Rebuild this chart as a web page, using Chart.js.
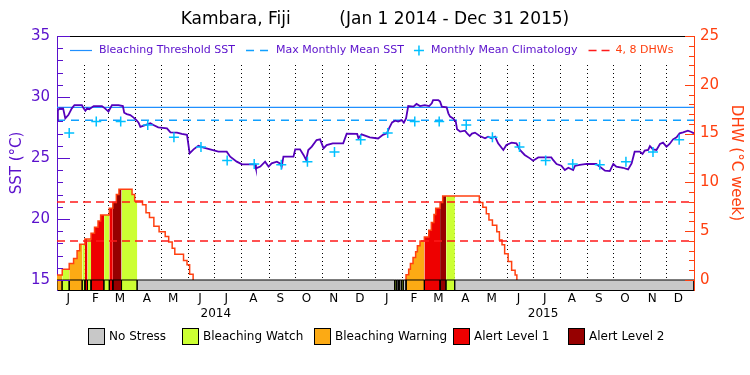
<!DOCTYPE html>
<html>
<head>
<meta charset="utf-8">
<script src="https://cdn.jsdelivr.net/npm/chart.js@4.4.1/dist/chart.umd.min.js"></script>
<style>
  html, body { margin: 0; padding: 0; background: #fff; }
</style>
</head>
<body>
<canvas id="sst-chart" width="750" height="375"></canvas>
<script>
// day index counted from Jan 1 2014
const sstDaily = [
  [0, 28.1], [1, 28.9], [3, 29.07], [7, 29.07], [9.5, 28.25], [13, 28.52], [17, 29.07], [20, 29.34],
  [28.5, 29.34], [30.5, 29.07], [32.5, 28.88], [34.5, 29.07], [37, 29.0], [42, 29.26], [51.5, 29.26],
  [55, 29.07], [59, 28.8], [63, 29.34], [70.5, 29.34], [75.5, 29.26], [77, 28.71], [80, 28.6],
  [84, 28.52], [87.5, 28.33], [91, 28.11], [93.5, 27.9], [95.5, 27.55], [101, 27.7], [107, 27.84],
  [110.5, 27.7], [116, 27.51], [126, 27.43], [130, 27.1], [137.5, 27.08], [143, 26.97], [149, 26.9],
  [152, 25.38], [156.5, 25.71], [162, 26.0], [168, 25.85], [175.5, 25.71], [185, 25.52], [194.5, 25.52],
  [198.5, 25.11], [206, 24.7], [212, 24.48], [227, 24.48], [228, 24.15], [233, 24.3], [238.5, 24.7],
  [242.5, 24.29], [246, 24.56], [252, 24.7], [255.5, 24.56], [257.5, 24.29], [259.5, 25.11], [271, 25.11],
  [273, 25.71], [278.5, 25.71], [282.5, 25.25], [285.5, 24.84], [288, 25.65], [292, 25.93], [297.5, 26.47],
  [301.5, 26.53], [305.5, 25.79], [309, 26.06], [316, 26.2], [328, 26.2], [332, 27.0], [344, 26.97],
  [345.5, 26.61], [349, 26.94], [358.5, 26.69], [368, 26.6], [373.5, 26.9], [378, 27.02], [380.5, 27.43],
  [384, 27.92], [387.5, 28.06], [391, 27.98], [395, 28.11], [397.5, 27.9], [400, 28.25], [402.5, 29.26],
  [408.5, 29.21], [412, 29.43], [416, 29.26], [421.5, 29.34], [426.5, 29.26], [429.5, 29.48], [431, 29.75],
  [437, 29.75], [439, 29.62], [441, 29.21], [446.5, 29.15], [448.5, 28.66], [450.5, 28.39], [454, 28.25],
  [457, 27.98], [458.5, 27.35], [462, 27.16], [467.5, 27.24], [470, 27.02], [473, 26.8], [475.5, 27.0],
  [479, 27.08], [484.5, 26.8], [490.5, 26.61], [494, 26.75], [498, 26.61], [502, 26.75], [505.5, 26.2],
  [511.5, 25.66], [515, 26.07], [521, 26.26], [526.5, 26.2], [530.5, 25.66], [536, 25.25], [542, 24.97],
  [545.5, 24.78], [551.5, 25.05], [566.5, 25.05], [568.5, 24.84], [572.5, 24.51], [578, 24.37], [582, 24.02],
  [586, 24.2], [591.5, 24.02], [593.5, 24.35], [599, 24.43], [607, 24.51], [618, 24.51], [628, 23.96],
  [633.5, 23.93], [637.5, 24.51], [641, 24.29], [648.5, 24.2], [654.5, 24.07], [658.5, 24.56], [662, 25.52],
  [668, 25.52], [671, 25.33], [673.5, 25.6], [677.5, 25.66], [679.5, 25.98], [683, 25.71], [687, 25.66],
  [691, 26.15], [694.5, 26.26], [698.5, 25.93], [702, 26.15], [706, 26.53], [710, 26.69], [713.5, 27.02],
  [717.5, 27.1], [723, 27.24], [727, 27.13], [730, 27.02]
];

// monthly mean climatology, Jan..Dec
const climatology = [27.05, 28.0, 28.0, 27.7, 26.7, 25.9, 24.8, 24.5, 24.45, 24.7, 25.5, 26.5];
const bleachingThreshold = 29.15;
const maxMonthlyMean = 28.1;
const dhwLevels = [4, 8];

// degree heating weeks: [day it changes, new value]
const dhwSteps = [
  [0, 0.5], [6, 1.1], [14, 1.7], [19, 2.2], [23, 3.0], [26, 3.65], [32, 4.2], [39, 4.8], [43, 5.4],
  [47, 6.05], [50, 6.65], [60, 7.35], [64, 7.95], [68, 8.75], [71, 9.3], [86, 8.75], [89, 8.1],
  [98, 7.7], [102, 6.9], [106, 6.4], [111, 5.5], [117, 4.95], [124, 4.45], [128, 3.9], [132, 3.25],
  [135, 2.65], [145, 2.0], [149, 1.55], [152, 0.6], [156, 0],
  [400, 0.55], [403, 1.1], [405, 1.7], [408, 2.3], [411, 2.9], [413, 3.5], [416, 4.0], [421, 4.4],
  [426, 5.1], [429, 5.9], [432, 6.7], [434, 7.35], [439, 7.95], [442, 8.6], [484, 7.95], [488, 7.45],
  [492, 6.8], [495, 6.15], [499, 5.6], [504, 4.95], [507, 4.1], [510, 3.6], [513, 2.7], [517, 1.9],
  [521, 1.0], [525, 0.5], [527, 0]
];

// stress level spans: [start day, level] (0 none .. 4 alert level 2)
const stressSpans = [
  [0, 2], [6, 1], [14, 2], [29, 1], [32, 3], [35, 1], [39, 3], [54, 1], [60, 3], [64, 4], [74, 1], [92, 0],
  [387, 1], [389, 0], [391, 1], [393, 0], [395, 1], [397, 0], [400, 2], [421, 3], [439, 4], [446, 1], [456, 0]
];

const stressNames = ['No Stress', 'Bleaching Watch', 'Bleaching Warning', 'Alert Level 1', 'Alert Level 2'];
const stressColors = ['#c8c8c8', '#ccff33', '#fcaa14', '#ee0000', '#960000'];
const monthLetters = ['J', 'F', 'M', 'A', 'M', 'J', 'J', 'A', 'S', 'O', 'N', 'D'];
const yearLabels = ['2014', '2015'];
const years = [2014, 2015];
const totalDays = 730;

const purple = '#5a10cc';
const orange = '#ff4010';
const sstMin = 14.18, sstMax = 35;
const dhwMin = -1.025, dhwMax = 25;

// calendar helpers
const day0 = Date.UTC(2014, 0, 1);
const monthStarts = [];
years.forEach(y => {
  for (let m = 0; m < 12; m++) monthStarts.push((Date.UTC(y, m, 1) - day0) / 86400000);
});
const monthLabelDays = monthStarts.map(d => d + 13);
const yearLabelDays = [182, 557];

function spanEnd(i) {
  return i + 1 < stressSpans.length ? stressSpans[i + 1][0] : totalDays;
}

function dhwAt(day) {
  let v = 0;
  dhwSteps.forEach(([d, val]) => { if (d <= day) v = val; });
  return v;
}

// area under the DHW steps, for every span of one stress level
function dhwFill(level) {
  const pts = [];
  stressSpans.forEach(([a, lv], i) => {
    if (lv !== level) return;
    const b = spanEnd(i);
    let v = dhwAt(a);
    pts.push({x: a, y: v});
    dhwSteps.forEach(([t, val]) => {
      if (t > a && t < b) {
        pts.push({x: t, y: v});
        v = val;
        pts.push({x: t, y: v});
      }
    });
    pts.push({x: b, y: v});
    pts.push({x: b, y: null});
  });
  return pts;
}

// stress strip under the 15 degree line
function stripe(level) {
  const pts = [];
  stressSpans.forEach(([a, lv], i) => {
    if (lv !== level) return;
    const b = spanEnd(i);
    pts.push({x: a, y: sstMin}, {x: a, y: 15}, {x: b, y: 15}, {x: b, y: sstMin}, {x: b, y: null});
  });
  return pts;
}

function dhwLine() {
  const pts = [];
  let prev = null;
  dhwSteps.forEach(([t, v]) => {
    if (prev === 0 && v > 0) pts.push({x: t, y: 0});
    pts.push({x: t, y: v});
    if (v === 0) pts.push({x: t, y: null});
    prev = v;
  });
  return pts;
}

const climPoints = [];
monthStarts.forEach((d, i) => climPoints.push({x: d + 14, y: climatology[i % 12]}));

const datasets = [];

// stress strip
stressNames.forEach((name, lv) => {
  datasets.push({
    label: name, data: stripe(lv), yAxisID: 'y', xAxisID: 'x',
    borderColor: '#000', borderWidth: 1, backgroundColor: stressColors[lv],
    fill: 'start', pointRadius: 0, order: 2
  });
});

// coloured DHW area
[1, 2, 3, 4].forEach(lv => {
  datasets.push({
    label: 'fill ' + lv, data: dhwFill(lv), yAxisID: 'y2', xAxisID: 'x',
    borderWidth: 0, backgroundColor: stressColors[lv], fill: 'origin', pointRadius: 0, order: 7
  });
});

datasets.push({
  label: 'DHW', data: dhwLine(), yAxisID: 'y2', xAxisID: 'x', stepped: true,
  borderColor: orange, borderWidth: 1.5, pointRadius: 0, fill: false, order: 6
});

dhwLevels.forEach(v => {
  datasets.push({
    label: 'DHW ' + v, data: [{x: 0, y: v}, {x: totalDays, y: v}], yAxisID: 'y2', xAxisID: 'x',
    borderColor: '#ff1a1a', borderWidth: 1.5, borderDash: [8, 5], pointRadius: 0, fill: false, order: 5
  });
});

datasets.push({
  label: 'Bleaching Threshold SST', data: [{x: 0, y: bleachingThreshold}, {x: totalDays, y: bleachingThreshold}],
  yAxisID: 'y', xAxisID: 'x', borderColor: '#2090ff', borderWidth: 1.2, pointRadius: 0, fill: false, order: 4
});
datasets.push({
  label: 'Max Monthly Mean SST', data: [{x: 0, y: maxMonthlyMean}, {x: totalDays, y: maxMonthlyMean}],
  yAxisID: 'y', xAxisID: 'x', borderColor: '#10a0ff', borderWidth: 1.5, borderDash: [8, 6],
  pointRadius: 0, fill: false, order: 4
});

datasets.push({
  label: 'SST', data: sstDaily.map(([d, v]) => ({x: d, y: v})), yAxisID: 'y', xAxisID: 'x',
  borderColor: '#5500bb', borderWidth: 1.8, pointRadius: 0, fill: false, order: 1
});

datasets.push({
  label: 'Monthly Mean Climatology', data: climPoints, yAxisID: 'y', xAxisID: 'x', showLine: false,
  pointStyle: 'cross', pointRadius: 5, pointBorderWidth: 1.5, pointBorderColor: '#00c0ff', order: 0
});

// ticks pointing into the plot
const inwardTicks = {
  id: 'inwardTicks',
  beforeDatasetsDraw(chart) {
    const {ctx, chartArea} = chart;
    // blank band behind the key
    ctx.save();
    ctx.fillStyle = '#fff';
    ctx.fillRect(chartArea.left + 1, chartArea.top + 1, chartArea.right - chartArea.left - 2, 26);
    ctx.restore();
  },
  afterDatasetsDraw(chart) {
    const {ctx, chartArea, scales} = chart;
    ctx.save();
    ctx.lineWidth = 1;
    ctx.strokeStyle = purple;
    for (let v = 15; v <= 35; v++) {
      const y = Math.round(scales.y.getPixelForValue(v)) + 0.5;
      const len = v % 5 === 0 ? 13 : 6;
      ctx.beginPath();
      ctx.moveTo(chartArea.left, y);
      ctx.lineTo(chartArea.left + len, y);
      ctx.stroke();
    }
    ctx.strokeStyle = orange;
    for (let v = 0; v <= 25; v++) {
      const y = Math.round(scales.y2.getPixelForValue(v)) + 0.5;
      const len = v % 5 === 0 ? 9 : 5;
      ctx.beginPath();
      ctx.moveTo(chartArea.right, y);
      ctx.lineTo(chartArea.right - len, y);
      ctx.stroke();
    }
    ctx.restore();
  }
};

// title, key inside the plot and stress key below
const labels = {
  id: 'labels',
  afterDraw(chart) {
    const {ctx, chartArea} = chart;
    ctx.save();
    ctx.textBaseline = 'middle';
    ctx.textAlign = 'center';
    ctx.fillStyle = '#000';
    ctx.font = '17px "DejaVu Sans"';
    ctx.fillText('Kambara, Fiji         (Jan 1 2014 - Dec 31 2015)', 375, 20);

    // key
    ctx.textAlign = 'left';
    ctx.font = '11px "DejaVu Sans"';
    const ky = chartArea.top + 14.5;
    let x = 70;
    ctx.lineWidth = 1.2;
    ctx.strokeStyle = '#2090ff';
    ctx.beginPath(); ctx.moveTo(x, ky); ctx.lineTo(x + 22, ky); ctx.stroke();
    x += 29;
    ctx.fillStyle = purple;
    ctx.fillText('Bleaching Threshold SST', x, ky);
    x += ctx.measureText('Bleaching Threshold SST').width + 11;
    ctx.strokeStyle = '#10a0ff';
    ctx.lineWidth = 1.5;
    ctx.setLineDash([8, 6]);
    ctx.beginPath(); ctx.moveTo(x, ky); ctx.lineTo(x + 22, ky); ctx.stroke();
    ctx.setLineDash([]);
    x += 30;
    ctx.fillText('Max Monthly Mean SST', x, ky);
    x += ctx.measureText('Max Monthly Mean SST').width + 15;
    ctx.strokeStyle = '#00c0ff';
    ctx.beginPath();
    ctx.moveTo(x - 5, ky); ctx.lineTo(x + 5, ky);
    ctx.moveTo(x, ky - 5); ctx.lineTo(x, ky + 5);
    ctx.stroke();
    x += 12;
    ctx.fillText('Monthly Mean Climatology', x, ky);
    x += ctx.measureText('Monthly Mean Climatology').width + 11;
    ctx.strokeStyle = '#ff1a1a';
    ctx.setLineDash([8, 5]);
    ctx.beginPath(); ctx.moveTo(x, ky); ctx.lineTo(x + 22, ky); ctx.stroke();
    ctx.setLineDash([]);
    x += 27;
    ctx.fillStyle = orange;
    ctx.fillText('4, 8 DHWs', x, ky);

    // stress key
    ctx.font = '12px "DejaVu Sans"';
    ctx.fillStyle = '#000';
    const boxX = [88, 182, 314, 453, 568];
    stressNames.forEach((name, i) => {
      ctx.fillStyle = stressColors[i];
      ctx.fillRect(boxX[i], 328, 16, 16);
      ctx.strokeStyle = '#000';
      ctx.lineWidth = 1;
      ctx.strokeRect(boxX[i] + 0.5, 328.5, 16, 16);
      ctx.fillStyle = '#000';
      ctx.fillText(name, boxX[i] + 21, 337);
    });
    ctx.restore();
  }
};

new Chart(document.getElementById('sst-chart'), {
  type: 'line',
  data: {datasets: datasets},
  plugins: [inwardTicks, labels],
  options: {
    responsive: false,
    animation: false,
    devicePixelRatio: 1,
    spanGaps: false,
    layout: {padding: {top: 36, bottom: 46, left: 0, right: 0}},
    plugins: {legend: {display: false}, tooltip: {enabled: false}, title: {display: false}},
    scales: {
      x: {
        type: 'linear', position: 'bottom', min: 0, max: totalDays, weight: 0,
        grid: {display: false, drawTicks: false},
        border: {display: true, color: '#000'},
        ticks: {
          autoSkip: false, maxRotation: 0, padding: 2, color: '#000',
          font: {family: 'DejaVu Sans', size: 12},
          callback: (v, i) => monthLetters[i % 12]
        },
        afterBuildTicks: s => { s.ticks = monthLabelDays.map(v => ({value: v})); },
        afterFit: s => { s.height = 17; }
      },
      xYear: {
        type: 'linear', position: 'bottom', min: 0, max: totalDays, weight: 1,
        grid: {display: false, drawTicks: false},
        border: {display: false},
        ticks: {
          autoSkip: false, maxRotation: 0, padding: 0, color: '#000',
          font: {family: 'DejaVu Sans', size: 12},
          callback: (v, i) => yearLabels[i]
        },
        afterBuildTicks: s => { s.ticks = yearLabelDays.map(v => ({value: v})); },
        afterFit: s => { s.height = 22; }
      },
      xm: {
        type: 'linear', position: 'top', min: 0, max: totalDays,
        grid: {display: true, drawTicks: false, color: '#000', lineWidth: 1},
        border: {display: true, color: '#000', dash: [1, 3]},
        ticks: {display: false},
        afterBuildTicks: s => { s.ticks = monthStarts.filter(d => d > 0).map(v => ({value: v})); },
        afterFit: s => { s.height = 0; }
      },
      y: {
        type: 'linear', position: 'left', min: sstMin, max: sstMax,
        grid: {display: false, drawTicks: false},
        border: {display: true, color: purple},
        ticks: {color: purple, padding: 7, font: {family: 'DejaVu Sans', size: 15}},
        afterBuildTicks: s => { s.ticks = [15, 20, 25, 30, 35].map(v => ({value: v})); },
        title: {display: true, text: 'SST (°C)', color: purple, font: {family: 'DejaVu Sans', size: 15}, padding: {top: 8}},
        afterFit: s => { s.width = 57; }
      },
      y2: {
        type: 'linear', position: 'right', min: dhwMin, max: dhwMax,
        grid: {display: false, drawTicks: false},
        border: {display: true, color: orange},
        ticks: {color: orange, padding: 6, font: {family: 'DejaVu Sans', size: 15}},
        afterBuildTicks: s => { s.ticks = [0, 5, 10, 15, 20, 25].map(v => ({value: v})); },
        title: {display: true, text: 'DHW (°C week)', color: orange, font: {family: 'DejaVu Sans', size: 15}, padding: {top: 5}},
        afterFit: s => { s.width = 56; }
      }
    }
  }
});
</script>
</body>
</html>
